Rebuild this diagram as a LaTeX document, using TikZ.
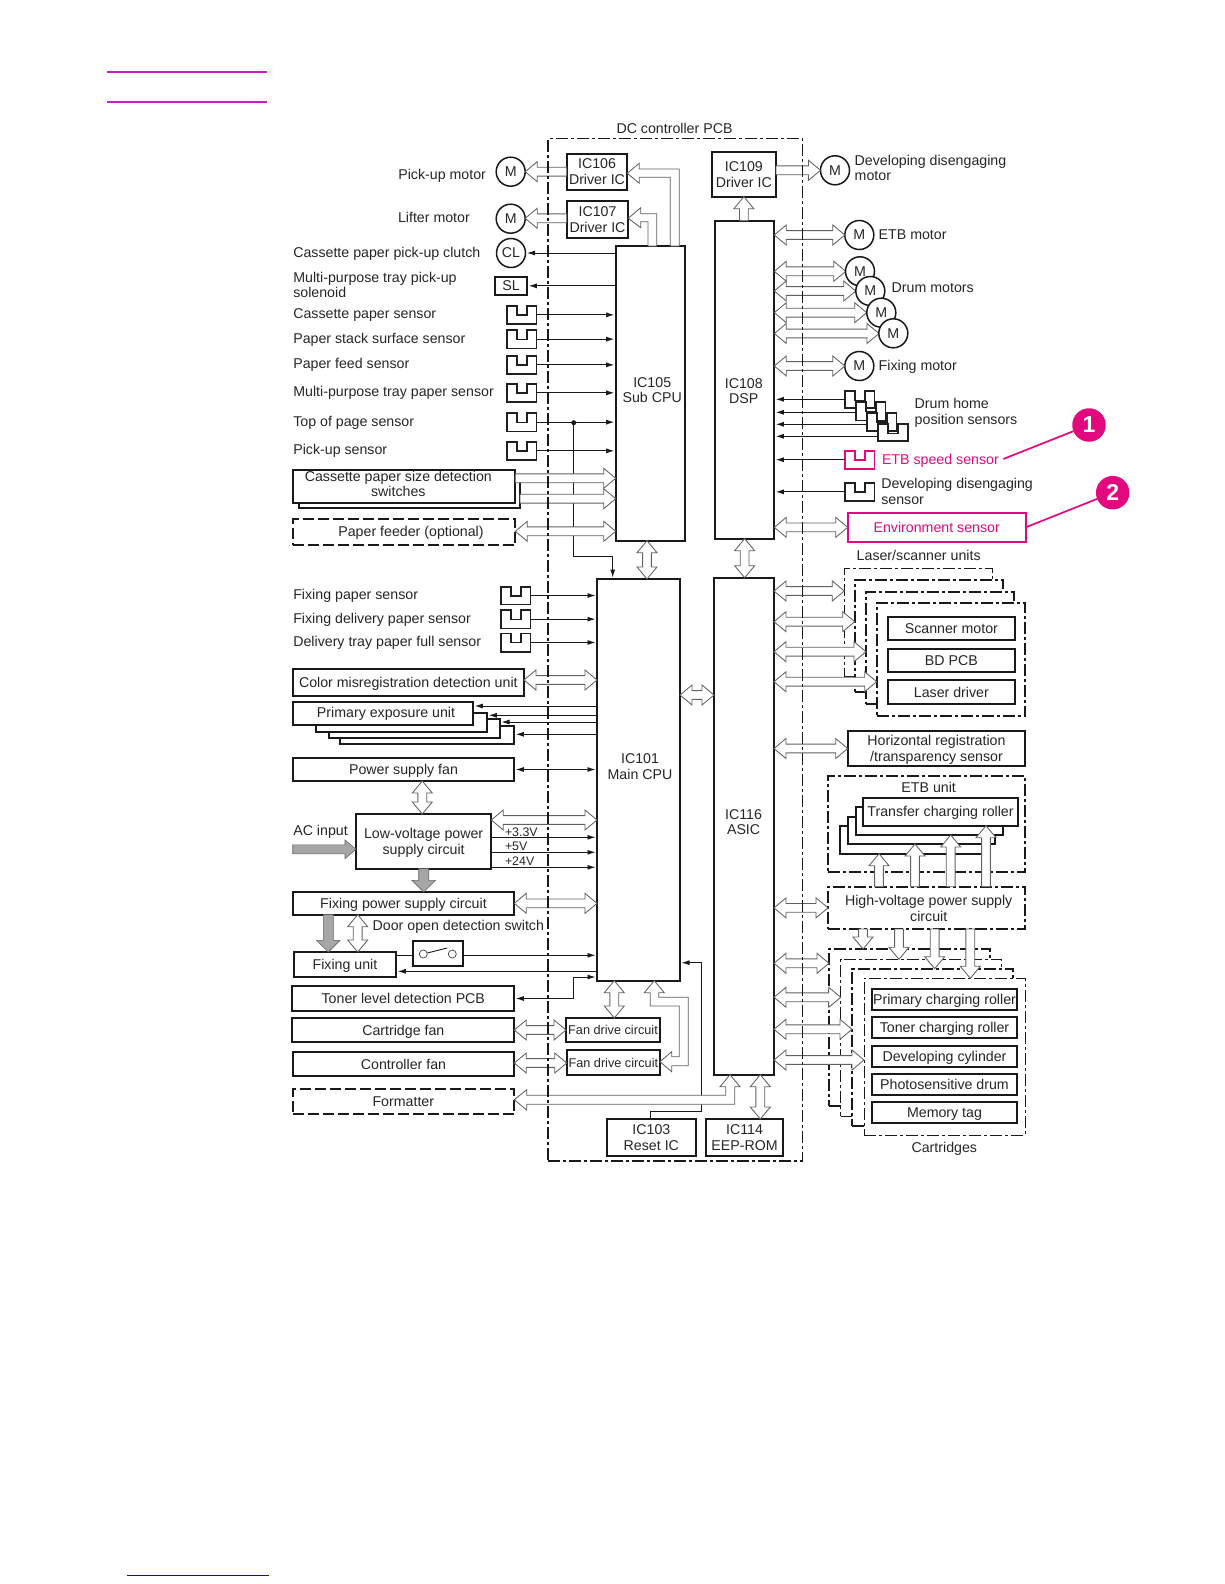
\documentclass[tikz,border=0pt]{standalone}
\usepackage{fontspec}
\setmainfont{Liberation Sans}
\usetikzlibrary{calc,arrows.meta}
\definecolor{pinkish}{HTML}{E2097F}
\definecolor{topline}{HTML}{C81FC8}
\definecolor{botline}{HTML}{12128C}
\newcommand\txtfont{\fontsize{14.2}{15.7}\selectfont}
\tikzset{
  bxs/.style={draw=black!90,line width=1.7pt,fill=white,inner sep=0pt,outer sep=0pt,align=center,text=black!85,font=\txtfont,text depth=0pt},
  thinbx/.style={line width=1pt},
  dashbx/.style={dash pattern=on 11pt off 4pt},
  dotbx/.style={dash pattern=on 12pt off 3pt on 3pt off 3pt},
  lbl/.style={inner sep=0pt,outer sep=0pt,anchor=west,align=left,text=black!85,font=\txtfont,text depth=0pt},
  clbl/.style={inner sep=0pt,outer sep=0pt,align=center,text=black!85,font=\txtfont,text depth=0pt},
  small/.style={font=\fontsize{12.4}{14}\selectfont},
  motor/.style={circle,draw=black!90,line width=1.5pt,fill=white,minimum size=29pt,inner sep=0pt,outer sep=0pt,text=black!85,font=\txtfont},
  holl/.style={draw=black!62,line width=.85pt,fill=white,line join=miter},
  grayarr/.style={draw=black!60,line width=.6pt,fill=black!35},
  sig/.style={line width=.9pt,draw=black!90,-{Latex[length=8pt,width=5pt]},shorten >=1.5pt},
  sigb/.style={line width=.9pt,draw=black!90,{Latex[length=8pt,width=5pt]}-{Latex[length=8pt,width=5pt]},shorten >=1.5pt,shorten <=1.5pt},
  wire/.style={line width=.9pt,draw=black!90},
  sens/.style={draw=black!88,line width=1.6pt,fill=white,line join=miter},
  pk/.style={draw=pinkish,text=pinkish},
  pkline/.style={draw=pinkish,line width=1.7pt},
  badge/.style={circle,fill=pinkish,minimum size=33.5pt,inner sep=0pt,outer sep=0pt,text=white,font=\fontsize{23}{25}\selectfont\bfseries},
}
% box from corners: \bx[opts]{name}{x1}{y1}{x2}{y2} {text};
\newcommand\bx[6][]{\node[bxs,#1,minimum width={(#5-#3)*1pt},minimum height={(#6-#4)*1pt}] (#2) at ({(#3+#5)/2},{(#4+#6)/2})}
% sensor outline
\newcommand\sensor[5][]{%
  \draw[sens,#1] (#3,#4) -- ++(10,0) -- ++(0,9.3) -- ++(10,0) -- ++(0,-9.3) -- ++(9.7,0) -- ++(0,#5) -- ++(-29.7,0) -- cycle;
  \node[inner sep=0pt,outer sep=0pt,minimum width=29.7pt,minimum height=#5 pt] (#2) at ({#3+14.85},{#4+#5/2}) {};}
% hollow double arrow
\newcommand\hdbl[2]{\draw[holl] let \p1=#1,\p2=#2,\n1={atan2(\y2-\y1,\x2-\x1)},\n2={veclen(\x2-\x1,\y2-\y1)} in [shift={(\x1,\y1)},rotate=\n1]
  (0pt,0pt) -- (12pt,10pt) -- (12pt,4.4pt) -- ({\n2*1pt-12pt},4.4pt) -- ({\n2*1pt-12pt},10pt) -- ({\n2*1pt},0pt) -- ({\n2*1pt-12pt},-10pt) -- ({\n2*1pt-12pt},-4.4pt) -- (12pt,-4.4pt) -- (12pt,-10pt) -- cycle;}
% hollow one-way arrow: \hone[style]{from}{to}{head length}{head half}{shaft half}
\newcommand\hone[6][holl]{\draw[#1] let \p1=#2,\p2=#3,\n1={atan2(\y2-\y1,\x2-\x1)},\n2={veclen(\x2-\x1,\y2-\y1)} in [shift={(\x1,\y1)},rotate=\n1]
  (0pt,#6 pt) -- ({\n2*1pt-#4 pt},#6 pt) -- ({\n2*1pt-#4 pt},#5 pt) -- ({\n2*1pt},0pt) -- ({\n2*1pt-#4 pt},-#5 pt) -- ({\n2*1pt-#4 pt},-#6 pt) -- (0pt,-#6 pt) -- cycle;}
\newcommand\honeh[2]{\hone{#1}{#2}{12}{10}{4.4}}
\begin{document}
\begin{tikzpicture}[x=1pt,y=-1pt]
\useasboundingbox (0,0) rectangle (1224,1584);
% page rules
\coordinate (tl1) at (107,71.7); \coordinate (tr1) at (267,71.7);
\coordinate (tl2) at (107,101.7); \coordinate (tr2) at (267,101.7);
\coordinate (bl) at (127.3,1575.3); \coordinate (br) at (269,1575.3);
\draw[topline,line width=2pt] (tl1) -- (tr1);
\draw[topline,line width=2pt] (tl2) -- (tr2);
\draw[botline,line width=1.3pt] (bl) -- (br);

% ---------- ICs
\bx{ic105}{615.7}{246}{685}{540.7} {};
\bx{ic108}{715}{220.7}{774.3}{538.7} {};
\bx{ic101}{597}{579}{680}{980.7} {};
\bx{ic116}{714}{577.7}{774}{1074.7} {};
\bx{ic106}{566.7}{153.7}{627.3}{190} {IC106\\Driver IC};
\bx{ic107}{566.7}{200.7}{628.3}{238} {IC107\\Driver IC};
\bx{ic109}{711.7}{152}{776}{196.7} {IC109\\Driver IC};
\bx{ic103}{606.7}{1118.7}{696}{1156} {IC103\\Reset IC};
\bx{ic114}{705.7}{1119}{783.3}{1156} {IC114\\EEP-ROM};
\node[clbl] (t105) at (652.2,390) {IC105\\Sub CPU};
\node[clbl] (t108) at (743.8,391) {IC108\\DSP};
\node[clbl] (t101) at (640,766.3) {IC101\\Main CPU};
\node[clbl] (t116) at (743.6,822) {IC116\\ASIC};
\bx[font=\fontsize{12.7}{14}\selectfont]{fan1}{566}{1018}{660}{1042} {Fan drive circuit};
\bx[font=\fontsize{12.7}{14}\selectfont]{fan2}{566.7}{1050}{660}{1075} {Fan drive circuit};

% ---------- left column: motors
\node[motor] (mpick) at (510.7,171.7) {M};
\node[motor] (mlift) at (510.7,218.7) {M};
\node[motor] (cl) at (511,253) {CL};
\bx{sl}{494.7}{276.7}{527.3}{295} {SL};
\node[lbl] (lpick) at (398.3,174) {Pick-up motor};
\node[lbl] (llift) at (398,217.7) {Lifter motor};
\node[lbl] (lcl) at (293.3,252) {Cassette paper pick-up clutch};
\node[lbl] (lsl) at (293.3,285) {Multi-purpose tray pick-up\\solenoid};
\node[lbl] (ls1) at (293.3,313.3) {Cassette paper sensor};
\node[lbl] (ls2) at (293.3,338) {Paper stack surface sensor};
\node[lbl] (ls3) at (293.3,363.3) {Paper feed sensor};
\node[lbl] (ls4) at (293.3,391.7) {Multi-purpose tray paper sensor};
\node[lbl] (ls5) at (293.3,421) {Top of page sensor};
\node[lbl] (ls6) at (293.3,449.3) {Pick-up sensor};
\sensor{s1}{506.7}{305.7}{18.3}
\sensor{s2}{506.7}{330}{18.3}
\sensor{s3}{506.7}{355.7}{18.3}
\sensor{s4}{506.7}{383.7}{18.3}
\sensor{s5}{506.7}{413}{18.3}
\sensor{s6}{506.7}{441.7}{18.3}
\foreach \s in {s1,s2,s3,s4,s5,s6} \draw[sig] (\s.east) -- (ic105.west |- \s.east);
\draw[sig] (ic105.west |- cl.east) -- (cl.east);
\draw[sig] (ic105.west |- sl.east) -- (sl.east);
\coordinate (jt) at (573.7,422.7);
\fill[black!90] (jt) circle (2.5pt);
\coordinate (jb) at (573.7,556.7);
\draw[sig] (jt) -- (jb) -- (jb -| 612.7,0) -- (ic101.north -| 612.7,0);

\bx{cass2}{299}{480}{520}{508.3} {};
\bx{cass}{292.7}{470}{515.3}{502.7} {};
\node[clbl] (tcass) at (398.3,484) {Cassette paper size detection\\switches};
\bx[dashbx]{feeder}{292.7}{519}{515.3}{545} {};
\node[clbl] (tfeeder) at (411,531.3) {Paper feeder (optional)};
\honeh{(cass.east |- 0,478.3)}{(ic105.west |- 0,478.3)}
\honeh{(cass2.east |- 0,498.7)}{(ic105.west |- 0,498.7)}
\hdbl{(feeder.east |- 0,531.3)}{(ic105.west |- 0,531.3)}
\hdbl{(ic105.south -| 647,0)}{(ic101.north -| 647,0)}

% driver arrows
\honeh{(ic106.west |- mpick.east)}{(mpick.east)}
\honeh{(ic107.west |- 0,218.3)}{(mlift.east |- 0,218.3)}
\draw[holl] (ic106.east |- 0,173.3) -- (639.3,163.3) -- (639.3,169) -- (679.3,169) -- (ic105.north -| 679.3,0) -- (ic105.north -| 670.3,0) -- (670.3,177.3) -- (639.3,177.3) -- (639.3,183.3) -- cycle;
\draw[holl] (ic107.east |- 0,218.3) -- (640.7,207.7) -- (640.7,213.7) -- (656.7,213.7) -- (ic105.north -| 656.7,0) -- (ic105.north -| 648,0) -- (648,221.7) -- (640.7,221.7) -- (640.7,227.7) -- cycle;

% ---------- right column, top
\node[motor] (mdev) at (835,170.3) {M};
\node[lbl] (ldev) at (854.7,168) {Developing disengaging\\motor};
\honeh{(ic109.east |- mdev.west)}{(mdev.west)}
\hone{(ic108.north -| ic109.south)}{(ic109.south)}{12}{10}{4.4}
\node[motor] (metb) at (859.3,235) {M};
\node[lbl] (letb) at (878.7,235) {ETB motor};
\hdbl{(ic108.east |- metb.west)}{(metb.west)}
\hdbl{(ic108.east |- 0,271.3)}{(845.7,271.3)}
\hdbl{(ic108.east |- 0,291)}{(855.7,291)}
\hdbl{(ic108.east |- 0,312.7)}{(866.7,312.7)}
\hdbl{(ic108.east |- 0,333.5)}{(879,333.5)}
\node[motor] (md1) at (860,271.3) {M};
\node[motor] (md2) at (870.3,291) {M};
\node[motor] (md3) at (881.3,312.7) {M};
\node[motor] (md4) at (893.3,333.3) {M};
\node[lbl] (ldrum) at (891.7,287.7) {Drum motors};
\node[motor] (mfix) at (859.3,366) {M};
\node[lbl] (lfix) at (878.7,365.7) {Fixing motor};
\hdbl{(ic108.east |- mfix.west)}{(mfix.west)}
\sensor{hs1}{844.7}{391}{17}
\sensor{hs2}{855.7}{402}{18.3}
\sensor{hs3}{866.7}{412.7}{18}
\sensor{hs4}{878}{424}{17}
\draw[sig] (hs1.west |- 0,399.3) -- (ic108.east |- 0,399.3);
\draw[sig] (hs2.west |- 0,412.3) -- (ic108.east |- 0,412.3);
\draw[sig] (hs3.west |- 0,424.3) -- (ic108.east |- 0,424.3);
\draw[sig] (hs4.west |- 0,436.3) -- (ic108.east |- 0,436.3);
\node[lbl] (lhome) at (914.7,411.5) {Drum home\\position sensors};
\sensor[draw=pinkish]{setb}{844.7}{450.7}{18}
\draw[sig] (setb.west) -- (ic108.east |- setb.west);
\node[lbl,text=pinkish] (letbs) at (882,459.3) {ETB speed sensor};
\sensor{sdev}{844.7}{482.7}{18.3}
\draw[sig] (sdev.west) -- (ic108.east |- sdev.west);
\node[lbl] (ldevs) at (881.3,491.3) {Developing disengaging\\sensor};
\bx[pk]{env}{847.7}{513}{1025.7}{541.7} {Environment sensor};
\hdbl{(ic108.east |- env.west)}{(env.west)}
\node[badge] (b1) at (1089,425) {1};
\node[badge] (b2) at (1112.7,492.7) {2};
\coordinate (etbend) at (1003.3,459);
\draw[pkline] (etbend) -- (b1);
\draw[pkline] (env.east) -- (b2);
\hdbl{(ic108.south)}{(ic116.north -| ic108.south)}

% ---------- laser units
\node[lbl] (llaser) at (856.7,555.7) {Laser/scanner units};
\bx[dotbx,thinbx]{la1}{844.3}{568.3}{992.3}{676.7} {};
\bx[dotbx]{la2}{854.7}{579.7}{1003.3}{692.3} {};
\bx[dotbx]{la3}{866}{591.7}{1014.3}{704.3} {};
\bx[dotbx]{la4}{876.7}{603.3}{1025.3}{716} {};
\bx{scan}{887.7}{616.7}{1015}{640.3} {Scanner motor};
\bx{bd}{887.7}{648.7}{1015}{672.3} {BD PCB};
\bx{ldr}{887.7}{680}{1015}{704} {Laser driver};
\hdbl{(ic116.east |- 0,591)}{(la1.west |- 0,591)}
\hdbl{(ic116.east |- 0,621.7)}{(la2.west |- 0,621.7)}
\hdbl{(ic116.east |- 0,651.7)}{(la3.west |- 0,651.7)}
\hdbl{(ic116.east |- 0,681.7)}{(la4.west |- 0,681.7)}
\bx{hreg}{847.7}{731}{1025.3}{766} {Horizontal registration\\/transparency sensor};
\hdbl{(ic116.east |- hreg.west)}{(hreg.west)}

% ---------- ETB unit
\bx[dotbx]{etb}{828}{776}{1025.3}{871.7} {};
\node[clbl] (tetb) at (928.7,787.7) {ETB unit};
\bx{et3}{840}{825.7}{986}{853.7} {};
\bx{et2}{848}{816.7}{995}{844} {};
\bx{et1}{856}{806.7}{1002.7}{835} {};
\bx{et0}{862.7}{797.7}{1018.3}{825.7} {Transfer charging roller};
\bx[dotbx]{hv}{828}{886.7}{1025.3}{929} {};
\node[clbl] (thv) at (928.7,908.3) {High-voltage power supply\\circuit};
\hone{(hv.north -| 879,0)}{(et3.south -| 879,0)}{12}{10}{4.4}
\hone{(hv.north -| 915,0)}{(et2.south -| 915,0)}{12}{10}{4.4}
\hone{(hv.north -| 950.7,0)}{(et1.south -| 950.7,0)}{12}{10}{4.4}
\hone{(hv.north -| 986,0)}{(et0.south -| 986,0)}{12}{10}{4.4}
\hdbl{(ic116.east |- hv.west)}{(hv.west)}

% ---------- cartridges
\bx[dotbx]{c1}{829}{949}{990}{1106} {};
\bx[dotbx,thinbx]{c2}{840.7}{959.3}{1001}{1116} {};
\bx[dotbx]{c3}{852}{968.7}{1013.3}{1126} {};
\bx[dotbx,thinbx]{c4}{864}{978.3}{1025.3}{1135} {};
\bx{pcr}{871.7}{989}{1017.3}{1010} {Primary charging roller};
\bx{tcr}{871.7}{1016.7}{1017.3}{1037.7} {Toner charging roller};
\bx{dcy}{871.7}{1045.7}{1017.3}{1066.7} {Developing cylinder};
\bx{pdr}{871.7}{1074}{1017.3}{1095} {Photosensitive drum};
\bx{mtg}{871.7}{1102}{1017.3}{1123.3} {Memory tag};
\node[clbl] (tcart) at (944.3,1147.7) {Cartridges};
\hone{(hv.south -| 863,0)}{(c1.north -| 863,0)}{12}{10}{4.4}
\hone{(hv.south -| 899,0)}{(c2.north -| 899,0)}{12}{10}{4.4}
\hone{(hv.south -| 934.7,0)}{(c3.north -| 934.7,0)}{12}{10}{4.4}
\hone{(hv.south -| 970.3,0)}{(c4.north -| 970.3,0)}{12}{10}{4.4}
\hdbl{(ic116.east |- 0,963.3)}{(c1.west |- 0,963.3)}
\hdbl{(ic116.east |- 0,997.3)}{(c2.west |- 0,997.3)}
\hdbl{(ic116.east |- 0,1029.3)}{(c3.west |- 0,1029.3)}
\hdbl{(ic116.east |- 0,1060)}{(c4.west |- 0,1060)}

% ---------- left column, IC101 side
\node[lbl] (lf1) at (293.3,594.3) {Fixing paper sensor};
\node[lbl] (lf2) at (293.3,618) {Fixing delivery paper sensor};
\node[lbl] (lf3) at (293.3,641.7) {Delivery tray paper full sensor};
\sensor{f1}{500.7}{586.7}{17.6}
\sensor{f2}{500.7}{610}{18.3}
\sensor{f3}{500.7}{633.3}{18.4}
\foreach \s in {f1,f2,f3} \draw[sig] (\s.east) -- (ic101.west |- \s.east);
\bx{misr}{292.7}{669}{524}{696} {Color misregistration detection unit};
\hdbl{(misr.east |- 0,680)}{(ic101.west |- 0,680)}
\bx{pe4}{340}{725.7}{514.3}{744} {};
\bx{pe3}{329}{719}{500}{738} {};
\bx{pe2}{315.7}{712.7}{487.3}{732} {};
\bx{pe1}{292.7}{702}{473.3}{725} {};
\node[clbl] (tpe) at (386,712.7) {Primary exposure unit};
\draw[sig] (ic101.west |- 0,706) -- (pe1.east |- 0,706);
\draw[sig] (ic101.west |- 0,715.3) -- (pe2.east |- 0,715.3);
\draw[sig] (ic101.west |- 0,722) -- (pe3.east |- 0,722);
\draw[sig] (ic101.west |- 0,734.3) -- (pe4.east |- 0,734.3);
\bx{psf}{292.7}{758}{514.3}{781} {Power supply fan};
\draw[sigb] (psf.east) -- (ic101.west |- psf.east);
\bx{lv}{356}{814}{491.3}{868.7} {Low-voltage power\\supply circuit};
\hdbl{(psf.south -| 422.3,0)}{(lv.north -| 422.3,0)}
\hdbl{(lv.east |- 0,820)}{(ic101.west |- 0,820)}
\node[lbl] (lac) at (293.3,830.3) {AC input};
\coordinate (acin) at (292.7,849.3);
\hone[grayarr]{(acin)}{(lv.west |- acin)}{11}{9.3}{4.5}
\foreach \vy in {837.3,852.3,867.3} \draw[sig] (lv.east |- 0,\vy) -- (ic101.west |- 0,\vy);
\node[lbl,small] (v1) at (505,832.3) {+3.3V};
\node[lbl,small] (v2) at (505,846.3) {+5V};
\node[lbl,small] (v3) at (505,860.7) {+24V};
\bx{fps}{292.7}{892}{514.3}{914.7} {Fixing power supply circuit};
\hone[grayarr]{(lv.south -| 423.7,0)}{(fps.north -| 423.7,0)}{11.7}{11.8}{5}
\hdbl{(fps.east)}{(ic101.west |- fps.east)}
\bx{fix}{293.7}{952}{396.3}{976.7} {Fixing unit};
\hone[grayarr]{(fps.south -| 328.3,0)}{(fix.north -| 328.3,0)}{11.7}{11.8}{5}
\hdbl{(fps.south -| 357.7,0)}{(fix.north -| 357.7,0)}
\node[lbl] (ldoor) at (372.7,925.3) {Door open detection switch};
\bx{sw}{412.7}{940.7}{463.3}{966} {};
\node[circle,draw=black!75,line width=.7pt,minimum size=8pt,inner sep=0pt] (swa) at (423.3,954) {};
\node[circle,draw=black!75,line width=.7pt,minimum size=8pt,inner sep=0pt] (swb) at (452.3,954) {};
\coordinate (swc) at (447.3,948);
\draw[wire] (swa) -- (swc);
\draw[wire] (fix.east |- 0,955.3) -- (sw.west |- 0,955.3);
\draw[sig] (sw.east |- 0,955.3) -- (ic101.west |- 0,955.3);
\draw[sig] (ic101.west |- 0,971.3) -- (fix.east |- 0,971.3);
\bx{ton}{292.3}{986}{514.3}{1011} {Toner level detection PCB};
\coordinate (tonm) at (573.3,977);
\draw[sigb] (ic101.west |- tonm) -- (tonm) -- (tonm |- ton.east) -- (ton.east);
\bx{cfan}{292.3}{1018}{514.3}{1042} {Cartridge fan};
\bx{ctfan}{292.7}{1052}{514.3}{1076} {Controller fan};
\bx[dashbx]{fmt}{292.7}{1089}{514.3}{1114} {};
\node[clbl] (tfmt) at (403.3,1101.5) {Formatter};
\hdbl{(cfan.east |- 0,1030)}{(fan1.west |- 0,1030)}
\hdbl{(ctfan.east |- 0,1063)}{(fan2.west |- 0,1063)}
\hdbl{(ic101.south -| 614.3,0)}{(fan1.north -| 614.3,0)}
\draw[holl] (ic101.south -| 654.3,0) -- (664.3,992.7) -- (658.7,992.7) -- (658.7,997.3) -- (688.3,997.3) -- (688.3,1065.7) -- (671.7,1065.7) -- (671.7,1071.7) -- (fan2.east |- 0,1061.7) -- (671.7,1051.7) -- (671.7,1056.7) -- (679.3,1056.7) -- (679.3,1006) -- (650.3,1006) -- (650.3,992.7) -- (644.3,992.7) -- cycle;

% reset line and formatter bus
\coordinate (rst1) at (650.3,1111.3);
\coordinate (rst2) at (701.7,1111.3);
\draw[sig] (ic103.north -| rst1) -- (rst1) -- (rst2) -- (rst2 |- 0,962.7) -- (ic101.east |- 0,962.7);
\draw[holl] (fmt.east |- 0,1099.7) -- (526.7,1089.7) -- (526.7,1095.3) -- (725.7,1095.3) -- (725.7,1086.7) -- (720,1086.7) -- (ic116.south -| 730,0) -- (740,1086.7) -- (734.7,1086.7) -- (734.7,1104.3) -- (526.7,1104.3) -- (526.7,1110) -- cycle;
\hdbl{(ic116.south -| 760.3,0)}{(ic114.north -| 760.3,0)}
\hdbl{(ic101.east |- 0,695)}{(ic116.west |- 0,695)}

% PCB outline on top
\node[clbl] (tpcb) at (674.5,128.3) {DC controller PCB};
\bx[dotbx,fill=none,line width=1.6pt]{pcb}{547.7}{138.7}{802.5}{1161} {};
\end{tikzpicture}
\end{document}
